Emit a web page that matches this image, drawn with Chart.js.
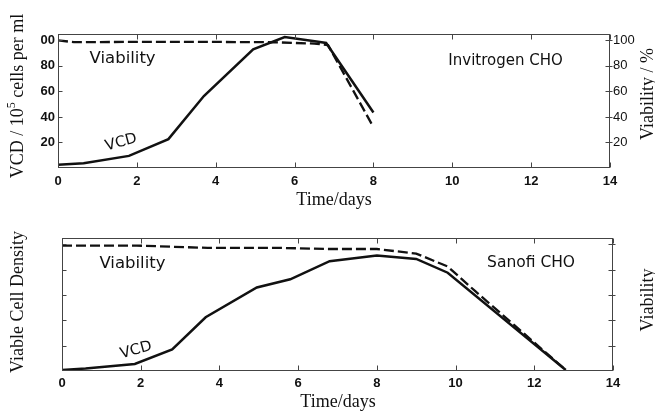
<!DOCTYPE html>
<html>
<head>
<meta charset="utf-8">
<script src="https://cdn.jsdelivr.net/npm/chart.js@4.4.0/dist/chart.umd.min.js"></script>
<style>
  body { margin: 0; background: #fff; }
  canvas { display: block; }
</style>
</head>
<body>
<canvas id="topChart" width="655" height="210"></canvas>
<canvas id="bottomChart" width="655" height="201"></canvas>
<script>
// axis ticks
var dayTicks = [0, 2, 4, 6, 8, 10, 12, 14];
var pctTicks = [20, 40, 60, 80, 100];

// Invitrogen CHO (top panel)
var invVcdDays = [0, 0.65, 1.8, 2.8, 3.7, 4.95, 5.75, 6.6, 6.8, 8.0];
var invVcd     = [2.5, 3.8, 9.5, 22.6, 56.4, 93, 102.6, 99, 98, 43.5];
var invViabDays = [0, 0.4, 2, 4, 5.5, 6.5, 6.85, 8.0];
var invViab     = [100, 98.6, 98.8, 98.8, 98.5, 97.5, 96.3, 32];

// Sanofi CHO (bottom panel)
var sanVcdDays = [0, 0.6, 1.85, 2.8, 3.65, 4.95, 5.8, 6.8, 8.0, 9.0, 9.8, 12.8];
var sanVcd     = [0.8, 2, 5.5, 17, 42.4, 65.9, 72.4, 86.7, 91.2, 88.5, 77.6, 0.8];
var sanViabDays = [0, 1.9, 3.7, 5.5, 6.8, 8.0, 9.0, 9.8, 10.5, 11.5, 12.8];
var sanViab     = [99, 99, 97.2, 97.2, 96.3, 96.3, 92.7, 82.5, 63, 36, 0.8];

function pts(xs, ys) {
  var out = [];
  for (var i = 0; i < xs.length; i++) out.push({x: xs[i], y: ys[i]});
  return out;
}

// frame box + inward tick marks
var framePlugin = {
  id: 'frame',
  afterDatasetsDraw: function(chart) {
    var ctx = chart.ctx, a = chart.chartArea;
    var sx = chart.scales.x, sy = chart.scales.y, sy1 = chart.scales.y1;
    var L = Math.round(a.left) + 0.5, R = Math.round(a.right) - 0.5;
    var T = Math.round(a.top) + 0.5, B = Math.round(a.bottom) - 0.5;
    ctx.save();
    ctx.strokeStyle = '#444';
    ctx.lineWidth = 1;
    ctx.strokeRect(L, T, R - L, B - T);
    ctx.beginPath();
    dayTicks.forEach(function(v) {
      var px = Math.round(sx.getPixelForValue(v)) + 0.5;
      ctx.moveTo(px, B); ctx.lineTo(px, B - 5);
      ctx.moveTo(px, T); ctx.lineTo(px, T + 5);
    });
    pctTicks.forEach(function(v) {
      var py = Math.round(sy.getPixelForValue(v)) + 0.5;
      ctx.moveTo(L, py); ctx.lineTo(L + 4, py);
      var py1 = Math.round(sy1.getPixelForValue(v)) + 0.5;
      ctx.moveTo(R + 3, py1); ctx.lineTo(R - 4, py1);
    });
    ctx.stroke();
    ctx.restore();
  }
};

// axis titles and in-plot labels
var notesPlugin = {
  id: 'notes',
  afterDraw: function(chart, args, opts) {
    var ctx = chart.ctx;
    ctx.save();
    ctx.fillStyle = '#111';
    (opts.titles || []).forEach(function(t) {
      ctx.save();
      ctx.translate(t.x, t.y);
      ctx.rotate(t.rot || 0);
      var big = '18px "Liberation Serif"', small = '12px "Liberation Serif"';
      var w = 0;
      t.parts.forEach(function(p) {
        ctx.font = p.sup ? small : big;
        w += ctx.measureText(p.text).width;
      });
      var cx = -w / 2;
      ctx.textBaseline = 'middle';
      ctx.textAlign = 'left';
      t.parts.forEach(function(p) {
        ctx.font = p.sup ? small : big;
        ctx.fillText(p.text, cx, p.sup ? -6 : 0);
        cx += ctx.measureText(p.text).width;
      });
      ctx.restore();
    });
    ctx.textBaseline = 'middle';
    (opts.labels || []).forEach(function(l) {
      var px = chart.scales.x.getPixelForValue(l.x);
      var py = chart.scales.y.getPixelForValue(l.y);
      ctx.save();
      ctx.font = (l.size || 15) + 'px "DejaVu Sans"';
      ctx.translate(px, py);
      ctx.rotate(l.rot || 0);
      ctx.textAlign = l.align || 'left';
      ctx.fillText(l.text, 0, 0);
      ctx.restore();
    });
    ctx.restore();
  }
};

function makeChart(id, vcd, viab, cfg) {
  return new Chart(document.getElementById(id), {
    type: 'line',
    data: {
      datasets: [
        { label: 'VCD', data: vcd, yAxisID: 'y', borderColor: '#111', borderWidth: 2.5,
          pointRadius: 0, tension: 0, fill: false },
        { label: 'Viability', data: viab, yAxisID: 'y1', borderColor: '#111', borderWidth: 2.3,
          borderDash: [10, 4], pointRadius: 0, tension: 0, fill: false }
      ]
    },
    options: {
      responsive: false,
      animation: false,
      devicePixelRatio: 1,
      layout: { padding: { top: cfg.top, left: 0, right: 0, bottom: 0 } },
      plugins: {
        legend: { display: false },
        tooltip: { enabled: false },
        notes: { titles: cfg.titles, labels: cfg.labels }
      },
      scales: {
        x: {
          type: 'linear', min: 0, max: 14,
          afterBuildTicks: function(s) { s.ticks = dayTicks.map(function(v) { return {value: v}; }); },
          afterFit: function(s) { s.height = cfg.xHeight; },
          grid: { display: false, drawTicks: false },
          border: { display: false },
          ticks: { padding: cfg.xPad, color: '#111', maxRotation: 0,
                   font: { family: 'Liberation Sans', weight: 'bold', size: 13 } }
        },
        y: {
          position: 'left', min: 0, max: 105,
          afterBuildTicks: function(s) { s.ticks = pctTicks.map(function(v) { return {value: v}; }); },
          afterFit: function(s) { s.width = cfg.leftW; },
          grid: { display: false, drawTicks: false },
          border: { display: false },
          ticks: { display: cfg.showTicks, padding: 3, color: '#111',
                   font: { family: 'Liberation Sans', weight: 'bold', size: 13 },
                   callback: function(v) { return v === 100 ? '00' : v; } }
        },
        y1: {
          position: 'right', min: 0, max: 105,
          afterBuildTicks: function(s) { s.ticks = pctTicks.map(function(v) { return {value: v}; }); },
          afterFit: function(s) { s.width = cfg.rightW; },
          grid: { display: false, drawTicks: false },
          border: { display: false },
          ticks: { display: cfg.showTicks, padding: 3, color: '#111',
                   font: { family: 'Liberation Sans', size: 13 } }
        }
      }
    },
    plugins: [framePlugin, notesPlugin]
  });
}

makeChart('topChart', pts(invVcdDays, invVcd), pts(invViabDays, invViab), {
  top: 34, xHeight: 42, leftW: 58, rightW: 45, xPad: 6, showTicks: true,
  titles: [
    { parts: [{text: 'VCD / 10'}, {text: '5', sup: true}, {text: ' cells per ml'}], x: 18, y: 96, rot: -Math.PI / 2 },
    { parts: [{text: 'Viability / %'}], x: 648, y: 94, rot: -Math.PI / 2 },
    { parts: [{text: 'Time/days'}], x: 334, y: 200 }
  ],
  labels: [
    { text: 'Viability', x: 0.8, y: 86, size: 16.5 },
    { text: 'VCD', x: 1.6, y: 20, rot: -0.26, align: 'center' },
    { text: 'Invitrogen CHO', x: 9.9, y: 83.6 }
  ]
});

makeChart('bottomChart', pts(sanVcdDays, sanVcd), pts(sanViabDays, sanViab), {
  top: 28, xHeight: 40, leftW: 62, rightW: 42, xPad: 5, showTicks: false,
  titles: [
    { parts: [{text: 'Viable Cell Density'}], x: 18, y: 92, rot: -Math.PI / 2 },
    { parts: [{text: 'Viability'}], x: 648, y: 90, rot: -Math.PI / 2 },
    { parts: [{text: 'Time/days'}], x: 338, y: 192 }
  ],
  labels: [
    { text: 'Viability', x: 0.95, y: 84.4, size: 16.5 },
    { text: 'VCD', x: 1.88, y: 16.4, rot: -0.26, align: 'center' },
    { text: 'Sanofi CHO', x: 10.8, y: 85, size: 15.5 }
  ]
});
</script>
</body>
</html>
